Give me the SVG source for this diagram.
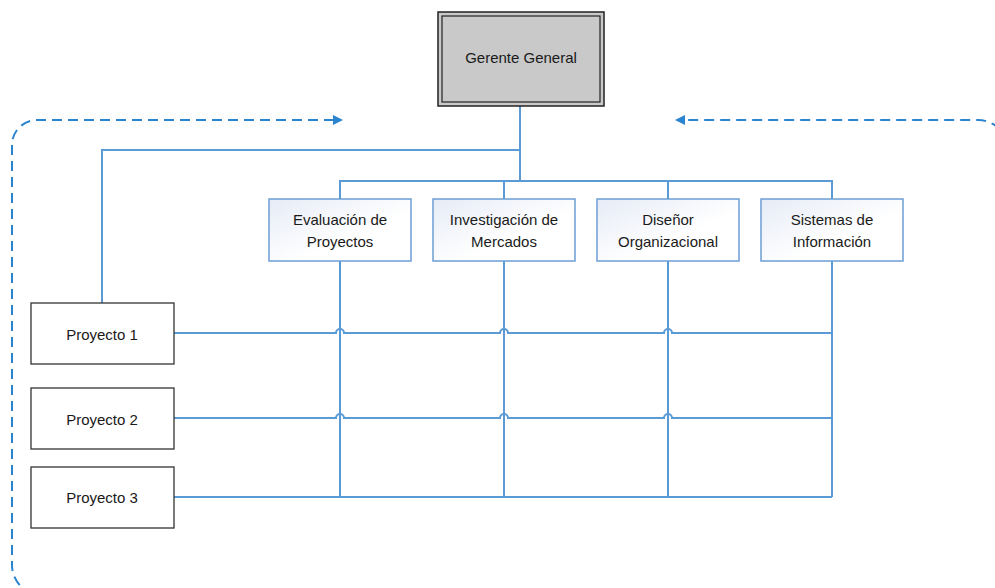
<svg xmlns="http://www.w3.org/2000/svg" width="995" height="588" viewBox="0 0 995 588">
  <style>
    .txt { font-family: "Liberation Sans", Arial, sans-serif; font-size: 15px; fill: #1a1a1a; text-anchor: middle; }
    .link { fill: none; stroke: #5b9bd5; stroke-width: 2; }
    .loop { fill: none; stroke: #2a84d0; stroke-width: 2; stroke-dasharray: 10 6; }
    .dept { fill: url(#deptFill); stroke: #6c9fd6; stroke-width: 1.5; }
    .proj { fill: #ffffff; stroke: #333333; stroke-width: 1.3; }
  </style>
  <defs>
    <linearGradient id="deptFill" x1="0" y1="0" x2="1" y2="1">
      <stop offset="0" stop-color="#e6ebf6"/>
      <stop offset="0.6" stop-color="#ffffff"/>
    </linearGradient>
    <marker id="tip" viewBox="0 0 10 10" refX="1" refY="5" markerWidth="5" markerHeight="5" orient="auto-start-reverse" markerUnits="strokeWidth">
      <path d="M0,0 L10,5 L0,10 Z" fill="#2a84d0"/>
    </marker>
  </defs>

  <rect width="995" height="588" fill="#ffffff"/>

  <!-- dashed feedback loop around the whole matrix -->
  <path class="loop" d="M 334 120 H 37 A 25 25 0 0 0 12 145 V 565 A 30 30 0 0 0 42 595 H 978 A 30 30 0 0 0 1008 565 V 150 A 30 30 0 0 0 978 120 H 684" marker-start="url(#tip)" marker-end="url(#tip)"/>

  <g id="connectors">
    <!-- general manager to departments and projects -->
    <path class="link" d="M 520 106 V 181"/>
    <path class="link" d="M 520 150 H 102 V 303"/>
    <path class="link" d="M 340 199 V 181 H 832 V 199"/>
    <path class="link" d="M 504 181 V 199"/>
    <path class="link" d="M 668 181 V 199"/>
    <!-- department columns -->
    <path class="link" d="M 340 261 V 497"/>
    <path class="link" d="M 504 261 V 497"/>
    <path class="link" d="M 668 261 V 497"/>
    <path class="link" d="M 832 261 V 497"/>
    <!-- project rows with line hops -->
    <path class="link" d="M 174 333 H 336 A 4 4 0 0 1 344 333 H 500 A 4 4 0 0 1 508 333 H 664 A 4 4 0 0 1 672 333 H 832"/>
    <path class="link" d="M 174 418 H 336 A 4 4 0 0 1 344 418 H 500 A 4 4 0 0 1 508 418 H 664 A 4 4 0 0 1 672 418 H 832"/>
    <path class="link" d="M 174 497 H 832"/>
  </g>

  <g id="gerente-general">
    <rect x="438" y="12" width="166" height="94" fill="#c9c9c9" stroke="#222222" stroke-width="1.5"/>
    <rect x="442" y="16" width="158" height="86" fill="none" stroke="#222222" stroke-width="1.2"/>
    <text class="txt" x="521" y="63">Gerente General</text>
  </g>

  <g id="evaluacion-proyectos">
    <rect class="dept" x="269" y="199" width="142" height="62"/>
    <text class="txt" x="340" y="225">Evaluación de</text>
    <text class="txt" x="340" y="247">Proyectos</text>
  </g>
  <g id="investigacion-mercados">
    <rect class="dept" x="433" y="199" width="142" height="62"/>
    <text class="txt" x="504" y="225">Investigación de</text>
    <text class="txt" x="504" y="247">Mercados</text>
  </g>
  <g id="diseno-organizacional">
    <rect class="dept" x="597" y="199" width="142" height="62"/>
    <text class="txt" x="668" y="225">Diseñor</text>
    <text class="txt" x="668" y="247">Organizacional</text>
  </g>
  <g id="sistemas-informacion">
    <rect class="dept" x="761" y="199" width="142" height="62"/>
    <text class="txt" x="832" y="225">Sistemas de</text>
    <text class="txt" x="832" y="247">Información</text>
  </g>

  <g id="proyecto-1">
    <rect class="proj" x="31" y="303" width="143" height="61"/>
    <text class="txt" x="102" y="340">Proyecto 1</text>
  </g>
  <g id="proyecto-2">
    <rect class="proj" x="31" y="388" width="143" height="61"/>
    <text class="txt" x="102" y="425">Proyecto 2</text>
  </g>
  <g id="proyecto-3">
    <rect class="proj" x="31" y="467" width="143" height="61" stroke="#444444"/>
    <text class="txt" x="102" y="503">Proyecto 3</text>
  </g>
</svg>
